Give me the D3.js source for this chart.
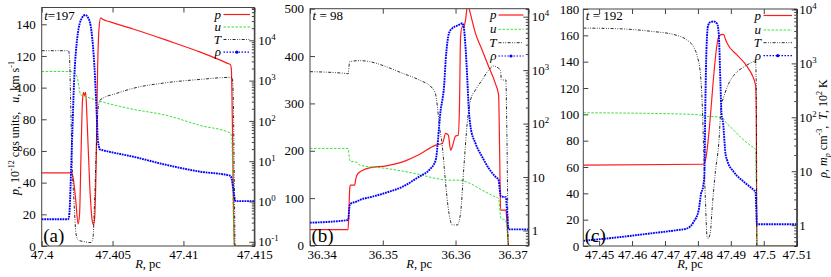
<!DOCTYPE html>
<html><head><meta charset="utf-8">
<script src="https://cdn.jsdelivr.net/npm/d3@7"></script>
<style>
body{margin:0;background:#fff;}
svg text{font-family:"Liberation Serif","Times New Roman",serif;fill:#000;}
</style></head><body>
<svg id="c" width="831" height="277"></svg>
<script>
// ---------- DATA ----------
// Panel (a), t = 197 : [R (pc), value]
const pA = [[47.4,46.2],[47.4021,46.2],[47.4022,44],[47.40239,30],[47.40257,14],[47.40267,20],[47.40278,60],[47.40288,92],[47.40295,97],[47.40302,95],[47.4031,97],[47.4032,80],[47.40338,40],[47.40355,17],[47.40365,13.5],[47.40373,17],[47.40384,50],[47.40394,110],[47.40405,138],[47.40416,144],[47.40433,143],[47.40483,141.5],[47.40645,137],[47.40885,129.8],[47.41119,122.4],[47.41307,115.5],[47.41331,114.5],[47.41338,112],[47.41345,80],[47.41354,20],[47.41359,0],[47.415,0]];
const uA = [[47.4,110.2],[47.402,110.2],[47.40228,109.5],[47.40249,107],[47.40264,100],[47.40274,95.5],[47.40306,94.5],[47.40389,92],[47.40624,86.7],[47.40885,82.4],[47.41119,76.1],[47.41331,71.3],[47.41341,68],[47.41352,20],[47.41359,0],[47.415,0]];
const TA = [[47.4,5520],[47.40189,5520],[47.40196,3980],[47.40204,316],[47.40214,10],[47.40228,1],[47.40242,0.158],[47.40257,0.11],[47.40306,0.1],[47.40348,0.0955],[47.40362,0.126],[47.40373,1],[47.40384,15.8],[47.40394,126],[47.40405,282],[47.40412,331],[47.4053,484],[47.40647,646],[47.40883,891],[47.41119,1072],[47.41331,1202],[47.41345,1148],[47.41352,316],[47.41359,3.16],[47.41366,0.05],[47.415,0.05]];
const rhoA = [[47.4,0.363],[47.40186,0.363],[47.40193,0.42],[47.40212,19],[47.40228,850],[47.40252,12300],[47.40283,35500],[47.40306,42600],[47.40329,35500],[47.40353,14800],[47.40372,2240],[47.40389,126],[47.40396,34],[47.40412,19.5],[47.40424,19],[47.40647,12.9],[47.40883,8.05],[47.41119,5.5],[47.41331,4.37],[47.41341,3.55],[47.41352,2.0],[47.41366,1.05],[47.41376,1.02],[47.415,1.02]];

// Panel (b), t = 98
const pB = [[36.34,33.7],[36.34523,33.7],[36.34532,60],[36.34546,120],[36.34555,127.4],[36.34614,127.4],[36.34628,140],[36.34659,152],[36.34819,164],[36.35046,168.3],[36.35273,176.7],[36.35501,192.3],[36.35728,212],[36.35819,215.5],[36.35865,236.7],[36.35901,233],[36.35933,201.4],[36.35955,208.4],[36.36001,231],[36.36037,233],[36.36055,300],[36.36069,440],[36.36092,462],[36.36115,462],[36.36137,476],[36.36169,510],[36.36192,497],[36.36274,448],[36.36365,412.7],[36.36456,377.4],[36.36547,342.3],[36.36592,317.6],[36.36606,200],[36.36619,74.6],[36.36692,74.6],[36.36706,50],[36.36729,0],[36.37,0]];
const uB = [[36.34,205],[36.34523,205],[36.34546,180.3],[36.34555,178],[36.34646,175.4],[36.34682,169.7],[36.35046,162.7],[36.35273,157],[36.35501,150],[36.35728,141.6],[36.3591,138],[36.36046,138],[36.36183,132.3],[36.36365,116.9],[36.36547,102.7],[36.36592,99.3],[36.36624,57],[36.36683,53.5],[36.36706,40],[36.36729,0],[36.37,0]];
const TB = [[36.34,937],[36.34514,860],[36.34523,847],[36.34546,1442],[36.34682,1504],[36.34819,1442],[36.35046,1161],[36.35273,872],[36.35501,654],[36.35683,457],[36.35728,343],[36.35751,207],[36.35774,101],[36.35819,37],[36.35855,10.2],[36.3591,2.1],[36.35955,1.27],[36.36024,1.27],[36.36069,2.1],[36.36115,15.6],[36.3616,101],[36.36206,276],[36.36274,425],[36.36365,654],[36.36456,1007],[36.36524,1196],[36.36592,1081],[36.36619,1000],[36.36629,654],[36.36692,654],[36.36706,60],[36.36729,0.3],[36.37,0.3]];
const rhoB = [[36.34,1.40],[36.34523,1.57],[36.34546,3.0],[36.34568,3.23],[36.34637,3.46],[36.34705,3.83],[36.34819,4.17],[36.35046,5.1],[36.35273,6.6],[36.35501,10.2],[36.35637,13.5],[36.35728,20.8],[36.35751,37],[36.35774,87.7],[36.35796,180],[36.35819,276],[36.35842,491],[36.35865,1549],[36.3591,4887],[36.35955,6060],[36.36046,7000],[36.36092,7520],[36.36115,6060],[36.36137,2750],[36.3616,755],[36.36183,180],[36.36206,87.7],[36.36274,42.7],[36.36365,24],[36.36456,14.6],[36.36547,10.2],[36.36592,8.8],[36.36606,6],[36.36624,4.3],[36.36692,4.2],[36.36706,2.5],[36.36729,1.05],[36.37,1.05]];

// Panel (c), t = 192
const pC = [[47.4452,61.4],[47.48176,62.1],[47.48228,65.2],[47.48633,159],[47.48736,160.7],[47.48786,160.5],[47.48837,157],[47.48888,153.9],[47.49193,145],[47.49498,136.1],[47.49751,122.2],[47.49772,100],[47.49791,0],[47.51,0]];
const uC = [[47.4452,101.2],[47.47567,100.2],[47.48076,99.4],[47.48176,98.6],[47.48584,98.1],[47.48736,97.6],[47.48837,94.3],[47.4909,88],[47.49395,80.4],[47.497,74.5],[47.49751,73.5],[47.49772,50],[47.49791,0],[47.51,0]];
const TC = [[47.4452,4510],[47.45537,4400],[47.46552,3950],[47.47365,3300],[47.4767,2700],[47.47872,2000],[47.47974,1400],[47.48076,644],[47.48127,206],[47.48176,24.5],[47.48228,2.9],[47.48279,0.608],[47.4831,0.567],[47.4838,0.75],[47.48431,2],[47.48533,10],[47.48633,32.5],[47.48706,155],[47.48786,238],[47.48888,364],[47.4909,600],[47.49395,855],[47.49599,1014],[47.49751,1104],[47.49772,400],[47.49791,0.3],[47.51,0.3]];
const rhoC = [[47.4452,0.513],[47.45537,0.591],[47.46552,0.701],[47.47365,0.808],[47.4767,0.867],[47.47872,1.15],[47.48024,1.9],[47.48096,3.86],[47.48157,5.13],[47.48198,9.05],[47.48228,206],[47.48259,1741],[47.4831,5055],[47.4838,5825],[47.48481,5995],[47.48584,5430],[47.48633,3542],[47.48685,420],[47.48716,117],[47.48767,76],[47.48837,21.2],[47.48888,16],[47.4909,9.7],[47.49395,6.35],[47.497,4.45],[47.49751,4.14],[47.49772,2],[47.49791,1.04],[47.51,1.04]];

// tick labels
const xTicksA = ["47.4","47.405","47.41","47.415"];
const xTicksB = ["36.34","36.35","36.36","36.37"];
const xTicksC = ["47.45","47.46","47.47","47.48","47.49","47.5","47.51"];
const yTicksA = [0,20,40,60,80,100,120,140];
const yTicksB = [0,100,200,300,400,500];
const yTicksC = [0,20,40,60,80,100,120,140,160,180];
const logExpA = [-1,0,1,2,3,4];
const logExpB = [0,1,2,3,4];
const logExpC = [0,1,2,3,4];
const times = ["197","98","192"];
const seriesNames = ["p","u","T","ρ"];

// ---------- LAYOUT / OPTIONS ----------
const panels = [
 {L:41.7,R:254.3,T:7.5,B:246, xDom:[47.4,47.415], xT:xTicksA, yDom:[0,150.6], yT:yTicksA, lDom:[0.0787,65200], lE:logExpA, plainLow:false,
  data:[pA,uA,TA,rhoA], tText:"t", tSep:"=", t:times[0], letter:"(a)", legEnd:221, legX0:223.5, legX1:250, legY:[14.5,27,39.5,52.2], shiftEnds:false, lPad:4, yPad:6},
 {L:310,R:528.3,T:8.7,B:245.5, xDom:[36.34,36.37], xT:xTicksB, yDom:[0,500], yT:yTicksB, lDom:[0.524,14100], lE:logExpB, plainLow:true,
  data:[pB,uB,TB,rhoB], tText:"t", tSep:" = ", t:times[1], letter:"(b)", legEnd:496.5, legX0:498.5, legX1:523.5, legY:[15,29.3,42.7,56], shiftEnds:true, lPad:3.5, yPad:6},
 {L:583.3,R:796.7,T:9,B:246, xDom:[47.4452,47.51], xT:xTicksC, yDom:[0,180], yT:yTicksC, lDom:[0.41,10200], lE:logExpC, plainLow:true,
  data:[pC,uC,TC,rhoC], tText:"t", tSep:" = ", t:times[2], letter:"(c)", legEnd:761, legX0:763.5, legX1:792, legY:[15.5,30,42.7,55.7], shiftEnds:false, lPad:2.5, yPad:4}
];
const styles = [
 {stroke:"#ff1a1a", w:1.2, dash:null, axis:"L"},
 {stroke:"#22dd22", w:0.9, dash:"2.5,1.5", axis:"L"},
 {stroke:"#111", w:0.9, dash:"3,1.5,0.8,1.5,0.8,1.5", axis:"R"},
 {stroke:"#0000ff", w:1.9, dash:"1.8,0.8", axis:"R"}
];

const svg = d3.select("#c");
const defs = svg.append("defs");

function rich(sel, parts){
  let shift = 0;
  parts.forEach(pt=>{
    const ts = sel.append("tspan").text(pt.t);
    const target = pt.sup ? -pt.sup : (pt.sub ? pt.sub : 0);
    if (target - shift !== 0) ts.attr("dy", target - shift);
    shift = target;
    if (pt.sup || pt.sub) ts.attr("font-size", "0.68em");
    if (pt.i) ts.attr("font-style", "italic");
  });
  if (shift !== 0) sel.append("tspan").attr("dy", -shift).text("");
}

panels.forEach((P, i)=>{
  const x = d3.scaleLinear().domain(P.xDom).range([P.L, P.R]);
  const y = d3.scaleLinear().domain(P.yDom).range([P.B, P.T]);
  const yl = d3.scaleLog().domain(P.lDom).range([P.B, P.T]);
  const g = svg.append("g");
  const cid = "clip" + i;
  defs.append("clipPath").attr("id", cid).append("rect")
    .attr("x", P.L).attr("y", P.T).attr("width", P.R - P.L).attr("height", P.B - P.T);

  const plot = g.append("g").attr("clip-path", `url(#${cid})`);
  P.data.forEach((ser, k)=>{
    const st = styles[k];
    const sc = st.axis === "L" ? y : yl;
    const line = d3.line().x(d=>x(d[0])).y(d=>sc(d[1])).curve(d3.curveMonotoneX);
    const path = plot.append("path").attr("d", line(ser)).attr("fill","none")
      .attr("stroke", st.stroke).attr("stroke-width", st.w).attr("stroke-linejoin","round");
    if (st.dash) path.attr("stroke-dasharray", st.dash);
  });

  // axes
  const xVals = P.xT.map(Number);
  const ax = g.append("g").attr("transform", `translate(0,${P.B})`)
    .call(d3.axisBottom(x).tickValues(xVals).tickSize(-5).tickPadding(4).tickFormat((d,j)=>P.xT[j]));
  const axTop = g.append("g").attr("transform", `translate(0,${P.T})`)
    .call(d3.axisTop(x).tickValues(xVals).tickSize(-5).tickFormat(""));
  const ayl = g.append("g").attr("transform", `translate(${P.L},0)`)
    .call(d3.axisLeft(y).tickValues(P.yT).tickSize(-5).tickPadding(P.yPad).tickFormat(d=>String(d)));
  const lVals = P.lE.map(e=>Math.pow(10,e));
  const ayr = g.append("g").attr("transform", `translate(${P.R},0)`)
    .call(d3.axisRight(yl).tickValues(lVals).tickSize(-5).tickPadding(P.lPad).tickFormat(""));
  const minors = [];
  const e0 = Math.floor(Math.log10(P.lDom[0])), e1 = Math.ceil(Math.log10(P.lDom[1]));
  for (let e = e0; e <= e1; e++) for (let m = 2; m <= 9; m++) {
    const v = m * Math.pow(10, e);
    if (v > P.lDom[0] && v < P.lDom[1]) minors.push(v);
  }
  g.append("g").attr("transform", `translate(${P.R},0)`)
    .call(d3.axisRight(yl).tickValues(minors).tickSize(-2.5).tickFormat(""));

  // right labels with superscripts
  ayr.selectAll(".tick text").each(function(d){
    const e = Math.round(Math.log10(d));
    const s = d3.select(this);
    if (P.plainLow && e === 0) s.text("1");
    else if (P.plainLow && e === 1) s.text("10");
    else rich(s, [{t:"10"},{t:String(e), sup:5}]);
  });

  [ax, axTop, ayl, ayr].forEach(a=>{ a.select(".domain").remove(); });
  g.selectAll(".tick line").attr("stroke", "#444");
  g.selectAll(".tick text").attr("font-size", 13);
  if (P.shiftEnds) {
    const txts = ax.selectAll(".tick text").nodes();
    d3.select(txts[0]).attr("text-anchor","start").attr("dx", -3);
    d3.select(txts[txts.length-1]).attr("text-anchor","end").attr("dx", -1);
  }

  // frame
  g.append("rect").attr("x", P.L).attr("y", P.T).attr("width", P.R - P.L).attr("height", P.B - P.T)
    .attr("fill","none").attr("stroke","#444").attr("stroke-width",1);

  // x label
  const xl = g.append("text").attr("x", (P.L + P.R)/2).attr("y", 268).attr("text-anchor","middle").attr("font-size",12.5);
  rich(xl, [{t:"R", i:true},{t:", pc"}]);

  // time label
  const tl = g.append("text").attr("x", P.L + 2.5).attr("y", 19.5).attr("font-size",13);
  rich(tl, [{t:P.tText, i:true},{t:P.tSep + P.t}]);

  // panel letter
  g.append("text").attr("x", P.L + 1.5).attr("y", 242).attr("font-size",19).text(P.letter);

  // legend
  seriesNames.forEach((nm, k)=>{
    const st = styles[k];
    const ly = P.legY[k];
    g.append("text").attr("x", P.legEnd).attr("y", ly).attr("dy","0.32em").attr("text-anchor","end")
      .attr("font-size",13).attr("font-style","italic").text(nm);
    const ln = g.append("line").attr("x1", P.legX0).attr("x2", P.legX1).attr("y1", ly).attr("y2", ly)
      .attr("stroke", st.stroke).attr("stroke-width", k === 3 ? 1.2 : st.w);
    if (k === 3) {
      ln.attr("stroke-dasharray","1.5,1.5");
      g.append("circle").attr("cx", (P.legX0 + P.legX1)/2).attr("cy", ly).attr("r", 1.6).attr("fill", st.stroke);
    } else if (st.dash) ln.attr("stroke-dasharray", st.dash);
  });
});

// axis titles
const lt = svg.append("text").attr("transform","translate(18.5,128) rotate(-90)").attr("text-anchor","middle").attr("font-size",12);
rich(lt, [{t:"p", i:true},{t:", 10"},{t:"-12", sup:5},{t:" cgs units,\u00a0\u00a0\u00a0"},{t:"u", i:true},{t:", km s"},{t:"-1", sup:5}]);
const rt = svg.append("text").attr("transform","translate(826.5,128.5) rotate(-90)").attr("text-anchor","middle").attr("font-size",12);
rich(rt, [{t:"ρ", i:true},{t:", "},{t:"m", i:true},{t:"p", i:true, sub:3},{t:" cm"},{t:"-3", sup:5},{t:",\u00a0\u00a0"},{t:"T", i:true},{t:", 10"},{t:"2", sup:5},{t:" K"}]);
</script>
</body></html>
